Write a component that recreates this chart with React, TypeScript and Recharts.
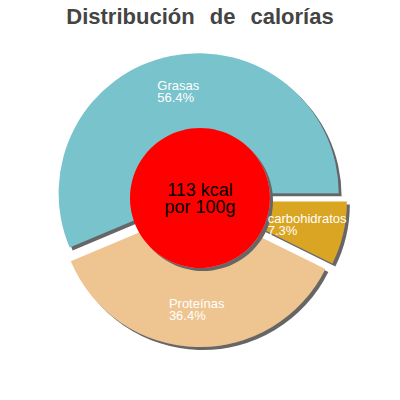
import { Cell, Pie, PieChart } from "recharts";

const names = ["Grasas", "Proteínas", "carbohidratos"];
const shares = [56.4, 36.4, 7.3];
const colors = ["#79c3cc", "#eec491", "#daa520"];
const energyLines = ["113 kcal", "por 100g"];
const energyValue = [113];

const data = names.map((name, i) => ({ name, value: shares[i] }));
const centre = energyValue.map((value) => ({ name: "kcal", value }));
const total = shares.reduce((a, b) => a + b, 0);

const CX = 200;
const CY = 200;
const R = 140;
const PULL = 7; // how far each slice is pushed out
const LABEL_R = 103;
const RAD = Math.PI / 180;
const LABEL_SIZE = 13;

// mid angle of each slice, recharts goes counter-clockwise from 3 o'clock
const mids = shares.map((v, i) => {
  const before = shares.slice(0, i).reduce((a, b) => a + b, 0);
  return ((before + v / 2) / total) * 360;
});
const centres = mids.map((m) => ({
  x: CX + PULL * Math.cos(m * RAD),
  y: CY - PULL * Math.sin(m * RAD),
}));

// Arial / Liberation Sans advance widths (per 1000 em)
const ADV: Record<string, number> = {
  a: 556, b: 556, c: 500, d: 556, e: 556, f: 278, g: 556, h: 556, i: 222, "í": 278,
  j: 222, k: 500, l: 222, m: 833, n: 556, o: 556, p: 556, q: 556, r: 333, s: 500,
  t: 278, u: 556, v: 500, w: 722, x: 500, y: 500, z: 500, G: 778, P: 667,
  ".": 278, "%": 889, " ": 278,
};
function textWidth(s: string, size: number) {
  let w = 0;
  for (const ch of s) w += ADV[ch] ?? 556;
  return (w / 1000) * size;
}

const sliceLabel = (slot: number) => (p: any) => {
  if (p.index !== slot) return null;
  const c = centres[slot];
  const x = c.x + LABEL_R * Math.cos(mids[slot] * RAD);
  const y = c.y - LABEL_R * Math.sin(mids[slot] * RAD);
  const name = names[slot];
  const left = x - textWidth(name, LABEL_SIZE) / 2;
  return (
    <text x={left} y={y - 2} fill="#fff" fontSize={LABEL_SIZE} fontFamily="'Liberation Sans', Arial, sans-serif">
      <tspan x={left}>{name}</tspan>
      <tspan x={left} dy={12}>
        {shares[slot].toFixed(1)}%
      </tspan>
    </text>
  );
};

const centreLabel = () => (
  <text x={CX} y={CY - 4} textAnchor="middle" fill="#000" fontSize={18} fontFamily="'Liberation Sans', Arial, sans-serif">
    <tspan x={CX}>{energyLines[0]}</tspan>
    <tspan x={CX} dy={17}>
      {energyLines[1]}
    </tspan>
  </text>
);

export default function App() {
  return (
    <div style={{ position: "absolute", left: 0, top: 0, width: 400, height: 400, background: "#fff" }}>
      <svg width={0} height={0} style={{ position: "absolute" }}>
        <defs>
          <filter id="drop" x="-10%" y="-10%" width="130%" height="130%">
            <feDropShadow dx={3} dy={3} stdDeviation={0.4} floodColor="#666" floodOpacity={1} />
          </filter>
        </defs>
      </svg>
      <div
        style={{
          position: "absolute",
          left: 0,
          top: 6,
          width: 400,
          textAlign: "center",
          fontFamily: "'Liberation Sans', Arial, sans-serif",
          fontWeight: "bold",
          fontSize: 22,
          lineHeight: "22px",
          wordSpacing: 9,
          color: "#444",
        }}
      >
        Distribución de calorías
      </div>
      <PieChart width={400} height={400} margin={{ top: 0, right: 0, bottom: 0, left: 0 }}>
        {data.map((d, slot) => (
          <Pie
            key={d.name}
            data={data}
            dataKey="value"
            nameKey="name"
            cx={centres[slot].x}
            cy={centres[slot].y}
            outerRadius={R}
            startAngle={0}
            endAngle={360}
            stroke="none"
            label={sliceLabel(slot)}
            labelLine={false}
            isAnimationActive={false}
          >
            {data.map((e, i) => (
              <Cell
                key={e.name}
                fill={i === slot ? colors[i] : "none"}
                filter={i === slot ? "url(#drop)" : undefined}
              />
            ))}
          </Pie>
        ))}
        <Pie
          data={centre}
          dataKey="value"
          cx={CX}
          cy={CY - 2}
          outerRadius={70}
          stroke="none"
          fill="#ff0000"
          label={centreLabel}
          labelLine={false}
          isAnimationActive={false}
        >
          <Cell fill="#ff0000" filter="url(#drop)" />
        </Pie>
      </PieChart>
    </div>
  );
}
